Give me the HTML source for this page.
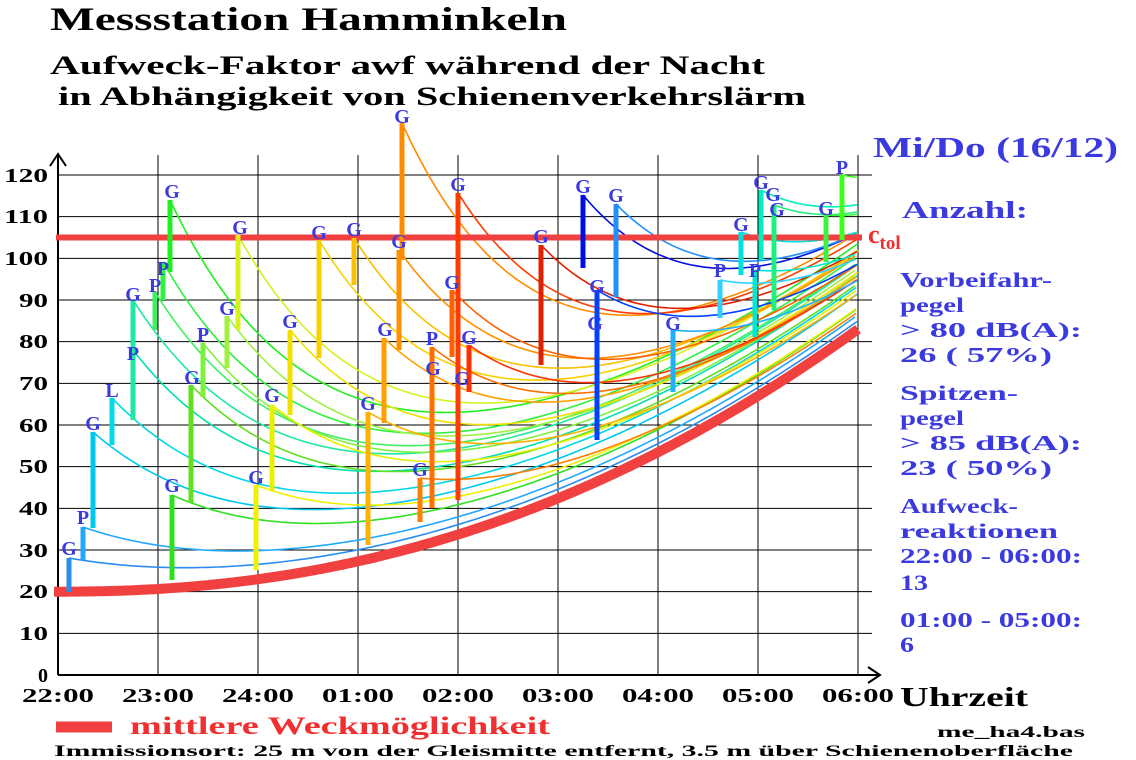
<!DOCTYPE html>
<html><head><meta charset="utf-8"><style>
html,body{margin:0;padding:0;background:#fff;}
svg{display:block;}
text{font-family:"Liberation Serif",serif;font-weight:bold;}
</style></head><body>
<svg id="s" width="1136" height="760" xmlns="http://www.w3.org/2000/svg">
<text x="50" y="30" font-size="33" fill="#000" textLength="517" lengthAdjust="spacingAndGlyphs">Messstation Hamminkeln</text>
<text x="50" y="74" font-size="26" fill="#000" textLength="715" lengthAdjust="spacingAndGlyphs">Aufweck-Faktor awf  während der Nacht</text>
<text x="58" y="105" font-size="26" fill="#000" textLength="748" lengthAdjust="spacingAndGlyphs">in Abhängigkeit von Schienenverkehrslärm</text>
<g id="grid" stroke="#000" stroke-width="1"></g>
<g id="curves" fill="none" stroke-width="1.6"></g>
<g id="bars" stroke-width="5"></g>
<g font-size="20" fill="#000" text-anchor="end" font-weight="normal">
<text x="48" y="682">0</text><text x="48" y="640" textLength="29" lengthAdjust="spacingAndGlyphs">10</text><text x="48" y="598" textLength="29" lengthAdjust="spacingAndGlyphs">20</text><text x="48" y="557" textLength="29" lengthAdjust="spacingAndGlyphs">30</text><text x="48" y="515" textLength="29" lengthAdjust="spacingAndGlyphs">40</text><text x="48" y="473" textLength="29" lengthAdjust="spacingAndGlyphs">50</text><text x="48" y="432" textLength="29" lengthAdjust="spacingAndGlyphs">60</text><text x="48" y="390" textLength="29" lengthAdjust="spacingAndGlyphs">70</text><text x="48" y="348" textLength="29" lengthAdjust="spacingAndGlyphs">80</text><text x="48" y="307" textLength="29" lengthAdjust="spacingAndGlyphs">90</text><text x="48" y="265" textLength="44" lengthAdjust="spacingAndGlyphs">100</text><text x="48" y="223" textLength="44" lengthAdjust="spacingAndGlyphs">110</text><text x="48" y="182" textLength="44" lengthAdjust="spacingAndGlyphs">120</text>
</g>
<g font-size="20" fill="#000" text-anchor="middle" font-weight="normal">
<text x="58" y="702" textLength="72" lengthAdjust="spacingAndGlyphs">22:00</text><text x="158" y="702" textLength="72" lengthAdjust="spacingAndGlyphs">23:00</text><text x="258" y="702" textLength="72" lengthAdjust="spacingAndGlyphs">24:00</text><text x="358" y="702" textLength="72" lengthAdjust="spacingAndGlyphs">01:00</text><text x="458" y="702" textLength="72" lengthAdjust="spacingAndGlyphs">02:00</text><text x="558" y="702" textLength="72" lengthAdjust="spacingAndGlyphs">03:00</text><text x="658" y="702" textLength="72" lengthAdjust="spacingAndGlyphs">04:00</text><text x="758" y="702" textLength="72" lengthAdjust="spacingAndGlyphs">05:00</text><text x="858" y="702" textLength="72" lengthAdjust="spacingAndGlyphs">06:00</text>
</g>
<text x="900" y="706" font-size="27" fill="#000" font-weight="normal" textLength="128" lengthAdjust="spacingAndGlyphs">Uhrzeit</text>
<g font-size="20" fill="#3a3ae0" text-anchor="middle" font-weight="normal">
<text x="69" y="555">G</text><text x="83" y="524">P</text><text x="93" y="430">G</text><text x="112" y="397">L</text><text x="133" y="360">P</text><text x="133" y="301">G</text><text x="155" y="292">P</text><text x="163" y="275">P</text><text x="172" y="198">G</text><text x="172" y="492">G</text><text x="192" y="384">G</text><text x="203" y="341">P</text><text x="227" y="315">G</text><text x="240" y="234">G</text><text x="256" y="484">G</text><text x="272" y="402">G</text><text x="290" y="328">G</text><text x="319" y="239">G</text><text x="354" y="236">G</text><text x="368" y="410">G</text><text x="385" y="336">G</text><text x="399" y="248">G</text><text x="402" y="123">G</text><text x="420" y="476">G</text><text x="432" y="345">P</text><text x="433" y="375">G</text><text x="452" y="289">G</text><text x="458" y="191">G</text><text x="469" y="344">G</text><text x="462" y="385">G</text><text x="541" y="243">G</text><text x="583" y="193">G</text><text x="597" y="293">G</text><text x="595" y="330">G</text><text x="616" y="202">G</text><text x="673" y="330">G</text><text x="720" y="277">P</text><text x="741" y="231">G</text><text x="755" y="277">P</text><text x="761" y="189">G</text><text x="773" y="201">G</text><text x="777" y="216">G</text><text x="826" y="215">G</text><text x="842" y="174">P</text>
</g>
<text x="873" y="157" font-size="29" fill="#3a3ae0" font-weight="normal" textLength="245" lengthAdjust="spacingAndGlyphs">Mi/Do (16/12)</text>
<text x="868" y="243" font-size="26" fill="#f03030" font-weight="normal">c<tspan font-size="19" dy="6">tol</tspan></text>
<g font-size="21" fill="#3a3ae0">
<text x="902" y="218" font-size="24" textLength="126" lengthAdjust="spacingAndGlyphs">Anzahl:</text>
<text x="900" y="287" textLength="152" lengthAdjust="spacingAndGlyphs">Vorbeifahr-</text><text x="900" y="312" textLength="64" lengthAdjust="spacingAndGlyphs">pegel</text><text x="900" y="337" textLength="182" lengthAdjust="spacingAndGlyphs">&gt; 80 dB(A):</text><text x="900" y="362" textLength="152" lengthAdjust="spacingAndGlyphs">26   ( 57%)</text>
<text x="900" y="400" textLength="118" lengthAdjust="spacingAndGlyphs">Spitzen-</text><text x="900" y="425" textLength="64" lengthAdjust="spacingAndGlyphs">pegel</text><text x="900" y="450" textLength="182" lengthAdjust="spacingAndGlyphs">&gt; 85 dB(A):</text><text x="900" y="475" textLength="152" lengthAdjust="spacingAndGlyphs">23   ( 50%)</text>
<text x="900" y="513" textLength="118" lengthAdjust="spacingAndGlyphs">Aufweck-</text><text x="900" y="538" textLength="158" lengthAdjust="spacingAndGlyphs">reaktionen</text><text x="900" y="563" textLength="182" lengthAdjust="spacingAndGlyphs">22:00 - 06:00:</text><text x="900" y="590" font-size="22" textLength="28" lengthAdjust="spacingAndGlyphs">13</text>
<text x="900" y="627" textLength="182" lengthAdjust="spacingAndGlyphs">01:00 - 05:00:</text><text x="900" y="652" font-size="22" textLength="14" lengthAdjust="spacingAndGlyphs">6</text>
</g>
<line x1="56" y1="727" x2="112" y2="727" stroke="#f04040" stroke-width="11"/>
<text x="130" y="734" font-size="25" fill="#f03030" font-weight="normal" textLength="420" lengthAdjust="spacingAndGlyphs">mittlere Weckmöglichkeit</text>
<text x="937" y="737" font-size="16" fill="#000" font-weight="normal" textLength="148" lengthAdjust="spacingAndGlyphs">me_ha4.bas</text>
<text x="54" y="756" font-size="16" fill="#000" font-weight="normal" textLength="1019" lengthAdjust="spacingAndGlyphs">Immissionsort: 25 m von der Gleismitte entfernt, 3.5 m über Schienenoberfläche</text>
</svg>
<script>
var NS="http://www.w3.org/2000/svg";
function el(p,t,a){var e=document.createElementNS(NS,t);for(var k in a)e.setAttribute(k,a[k]);p.appendChild(e);return e;}
var X0=58,PX=100,Y0=675,PY=500/120;
function yv(v){return Y0-v*PY;}
function base(h){return 20+63*Math.pow(Math.max(h,0)/8,2.2);}
var g=document.getElementById('grid');
for(var i=0;i<=8;i++)el(g,'line',{x1:X0+i*PX,y1:155,x2:X0+i*PX,y2:675});
for(var j=1;j<=12;j++)el(g,'line',{x1:X0,y1:yv(j*10),x2:872,y2:yv(j*10)});
el(g,'line',{x1:X0,y1:675,x2:878,y2:675,'stroke-width':2});
el(g,'line',{x1:X0,y1:675,x2:X0,y2:155,'stroke-width':2});
el(g,'path',{d:'M50,166 L58,154 L66,166',fill:'none','stroke-width':2});
el(g,'path',{d:'M868,667 L880,675 L868,683',fill:'none','stroke-width':2});
var B=[[69,558,592,'#2a8cf0'],[83,527,560,'#20a8ff'],[93,432,528,'#00c8f0'],[112,398,445,'#00d8e8'],[133,350,418,'#00e0b0'],[133,300,420,'#20e8a0'],[155,292,330,'#40f060'],[163,262,300,'#30f040'],[170,200,272,'#20f020'],[172,495,580,'#30e020'],[191,385,503,'#60e020'],[203,343,397,'#80f040'],[227,316,368,'#a0f040'],[238,235,330,'#d8f020'],[256,485,570,'#f0f000'],[272,405,490,'#e8f000'],[290,330,415,'#f0e000'],[319,240,358,'#f8d000'],[354,238,285,'#f8c000'],[368,412,545,'#ffb000'],[384,338,423,'#ffa000'],[399,250,350,'#ff9000'],[402,123,260,'#ff8c00'],[420,478,522,'#ff8000'],[432,347,508,'#ff7000'],[452,290,357,'#ff6000'],[458,193,500,'#ff3c00'],[469,345,392,'#ff3000'],[541,245,365,'#e02000'],[583,195,268,'#0010e0'],[597,290,440,'#0040ff'],[616,204,297,'#2090ff'],[673,330,392,'#20b0ff'],[720,280,318,'#30d0ff'],[741,232,275,'#00e0e0'],[755,270,337,'#00e8d0'],[761,190,260,'#00f0c0'],[774,205,310,'#20f080'],[826,215,262,'#40f040'],[842,175,240,'#40ff20']];
var cg=document.getElementById('curves'),bg=document.getElementById('bars');
B.forEach(function(b){
 var h0=(b[0]-X0)/PX,v0=(Y0-b[1])/PY,d=v0-base(h0),c=Math.min(20,Math.max(2,0.22*d));
 var pts=[];
 for(var x=b[0];x<=858;x+=4){var h=(x-X0)/PX;var v=base(h)+(d-c)*Math.exp(-(h-h0)/1.4)+c;pts.push(x+','+yv(v).toFixed(1));}
 el(cg,'polyline',{points:pts.join(' '),stroke:b[3]});
});
B.forEach(function(b){el(bg,'line',{x1:b[0],y1:b[1],x2:b[0],y2:b[2],stroke:b[3]});});
var bp=['M54,'+yv(20)];
for(var x=X0;x<=858;x+=4)bp.push('L'+x+','+yv(base((x-X0)/PX)).toFixed(1));
el(cg,'path',{d:bp.join(' '),stroke:'#f04040','stroke-width':10});
el(cg,'line',{x1:56,y1:yv(105),x2:862,y2:yv(105),stroke:'#f04040','stroke-width':6});
</script>
</body></html>
